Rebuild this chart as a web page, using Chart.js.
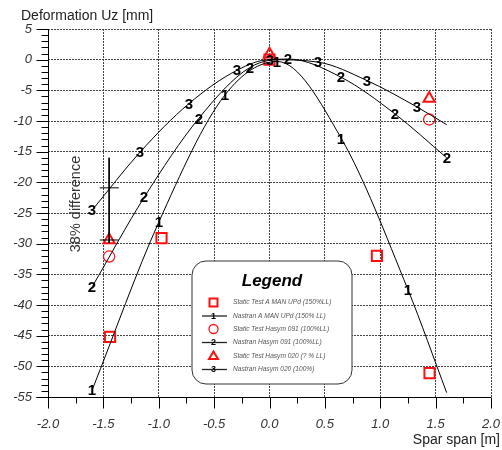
<!DOCTYPE html>
<html>
<head>
<meta charset="utf-8">
<script src="https://cdn.jsdelivr.net/npm/chart.js@4.4.0/dist/chart.umd.min.js"></script>
<style>
  html, body { margin: 0; padding: 0; background: #fff; }
  canvas { display: block; }
</style>
</head>
<body>
<canvas id="chart" width="502" height="450"></canvas>
<script>
// Nastran curves (points where the curve number is printed)
const nastran1X = [-1.6, -1.0, -0.4, 0.07, 0.65, 1.25, 1.6];
const nastran1Y = [-53.8, -26.5, -5.7, -0.3, -12.9, -37.5, -54.3];
const nastran1Mark = [1, 1, 1, 1, 1, 1, 0];

const nastran2X = [-1.6, -1.13, -0.64, -0.18, 0.17, 0.65, 1.13, 1.6];
const nastran2Y = [-37.0, -22.4, -9.6, -1.3, 0.1, -2.9, -8.8, -16.0];
const nastran2Mark = [1, 1, 1, 1, 1, 1, 1, 1];

const nastran3X = [-1.6, -1.17, -0.73, -0.29, 0.0, 0.44, 0.88, 1.33, 1.6];
const nastran3Y = [-24.5, -15.1, -7.2, -1.7, 0.0, -0.4, -3.4, -7.7, -10.6];
const nastran3Mark = [1, 1, 1, 1, 1, 1, 1, 1, 0];

// Static test measurements
const testManX = [-1.44, -0.975, 0.0, 0.97, 1.445];
const testManY = [-45.2, -29.1, 0.0, -32.0, -51.1];
const test091X = [-1.448, 1.442];
const test091Y = [-32.1, -9.75];
const test020X = [-1.448, 0.0, 1.442];
const test020Y = [-29.4, 0.9, -6.35];

// "38% difference" bracket
const diffX = [-1.448, -1.448];
const diffY = [-16.0, -29.9];
const diffTickX = [-1.533, -1.361];
const diffTickY = [-20.9, -29.4];

// Axes
const xTicks = [-2.0, -1.5, -1.0, -0.5, 0.0, 0.5, 1.0, 1.5, 2.0];
const yTicks = [5, 0, -5, -10, -15, -20, -25, -30, -35, -40, -45, -50, -55];

const legendNames = [
    'Static Test A MAN UPd (150%LL)',
    'Nastran A MAN UPd (150% LL)',
    'Static Test Hasym 091 (100%LL)',
    'Nastran Hasym 091 (100%LL)',
    'Static Test Hasym 020 (? % LL)',
    'Nastran Hasym 020 (100%)'
];

const FONT = '"Liberation Sans", Arial, sans-serif';
const RED = '#ff1010';

function pts(xs, ys) {
    return xs.map((x, i) => ({ x: x, y: ys[i] }));
}

function digitImage(d) {
    const c = document.createElement('canvas');
    c.width = 12;
    c.height = 16;
    const g = c.getContext('2d');
    g.font = 'bold 15px ' + FONT;
    g.textAlign = 'center';
    g.textBaseline = 'middle';
    g.fillStyle = '#000';
    g.fillText(d, 6, 9);
    return c;
}

function nastranSet(label, xs, ys, marks) {
    return {
        label: label,
        data: pts(xs, ys),
        showLine: true,
        borderColor: '#000',
        borderWidth: 1,
        cubicInterpolationMode: 'monotone',
        pointStyle: digitImage(label),
        pointRadius: ctx => marks[ctx.dataIndex] ? 5 : 0,
        pointHoverRadius: 0
    };
}

function lineSet(xs, ys) {
    return {
        data: pts(xs, ys),
        showLine: true,
        borderColor: '#000',
        borderWidth: 1,
        pointRadius: 0
    };
}

// solid axes with major/minor ticks
const axesPlugin = {
    id: 'axes',
    beforeDatasetsDraw(chart) {
        chart.ctx.imageSmoothingEnabled = false;
    },
    afterDatasetsDraw(chart) {
        const ctx = chart.ctx;
        const xs = chart.scales.x, ys = chart.scales.y;
        const a = chart.chartArea;
        ctx.save();
        ctx.strokeStyle = '#000';
        ctx.lineWidth = 1;
        ctx.beginPath();
        const lx = Math.round(a.left) + 0.5;
        const by = Math.round(a.bottom) + 0.5;
        ctx.moveTo(lx, a.top);
        ctx.lineTo(lx, by);
        ctx.moveTo(lx - 12, by);
        ctx.lineTo(a.right, by);
        for (let v = -55; v <= 5; v += 1) {
            const py = Math.round(ys.getPixelForValue(v)) + 0.5;
            ctx.moveTo(lx - (v % 5 === 0 ? 12 : 7), py);
            ctx.lineTo(lx, py);
        }
        for (let v = -2; v <= 2.001; v += 0.25) {
            const px = Math.round(xs.getPixelForValue(v)) + 0.5;
            const major = Math.abs(v * 2 - Math.round(v * 2)) < 1e-6;
            ctx.moveTo(px, by);
            ctx.lineTo(px, by + (major ? 11 : 6));
        }
        ctx.stroke();
        ctx.restore();
    }
};

const textPlugin = {
    id: 'texts',
    afterDraw(chart) {
        const ctx = chart.ctx;
        ctx.save();
        ctx.fillStyle = '#222';
        ctx.font = '14px ' + FONT;
        ctx.textBaseline = 'alphabetic';
        ctx.textAlign = 'left';
        ctx.fillText('Deformation Uz [mm]', 21, 20);
        ctx.textAlign = 'right';
        ctx.fillText('Spar span [m]', 500, 444);

        // rotated note
        ctx.save();
        ctx.translate(76, 204);
        ctx.rotate(-Math.PI / 2);
        ctx.textAlign = 'center';
        ctx.textBaseline = 'middle';
        ctx.fillStyle = '#333';
        ctx.font = '14.5px ' + FONT;
        ctx.fillText('38% difference', 0, 0);
        ctx.restore();

        // legend box
        const L = 192, T = 261, R = 352, B = 384, r = 14;
        ctx.beginPath();
        ctx.moveTo(L + r, T);
        ctx.arcTo(R, T, R, B, r);
        ctx.arcTo(R, B, L, B, r);
        ctx.arcTo(L, B, L, T, r);
        ctx.arcTo(L, T, R, T, r);
        ctx.closePath();
        ctx.fillStyle = '#fff';
        ctx.fill();
        ctx.strokeStyle = '#333';
        ctx.lineWidth = 1;
        ctx.stroke();

        ctx.fillStyle = '#000';
        ctx.font = 'italic bold 17px ' + FONT;
        ctx.textAlign = 'center';
        ctx.textBaseline = 'alphabetic';
        ctx.fillText('Legend', 272, 286);

        const rowsY = [302.5, 316, 329, 342.5, 356, 369.5];
        const sx = 213.5;
        rowsY.forEach((y, i) => {
            ctx.save();
            if (i % 2 === 0) {
                ctx.strokeStyle = RED;
                ctx.beginPath();
                if (i === 0) {
                    ctx.lineWidth = 2;
                    ctx.rect(sx - 4, y - 4, 8, 8);
                } else if (i === 2) {
                    ctx.lineWidth = 1.3;
                    ctx.arc(sx, y, 4.5, 0, Math.PI * 2);
                } else {
                    ctx.lineWidth = 2;
                    ctx.moveTo(sx, y - 4.5);
                    ctx.lineTo(sx + 4.5, y + 3);
                    ctx.lineTo(sx - 4.5, y + 3);
                    ctx.closePath();
                }
                ctx.stroke();
            } else {
                ctx.strokeStyle = '#222';
                ctx.lineWidth = 1.3;
                ctx.beginPath();
                ctx.moveTo(202, y);
                ctx.lineTo(227, y);
                ctx.stroke();
                ctx.fillStyle = '#000';
                ctx.font = 'bold 9px ' + FONT;
                ctx.textAlign = 'center';
                ctx.textBaseline = 'middle';
                ctx.fillText(String((i + 1) / 2), sx, y + 0.5);
            }
            ctx.restore();
            ctx.fillStyle = '#555';
            ctx.font = 'italic 6.6px ' + FONT;
            ctx.textAlign = 'left';
            ctx.textBaseline = 'middle';
            ctx.fillText(legendNames[i], 233, y);
        });
        ctx.restore();
    }
};

new Chart(document.getElementById('chart'), {
    type: 'scatter',
    data: {
        datasets: [
            nastranSet('1', nastran1X, nastran1Y, nastran1Mark),
            nastranSet('2', nastran2X, nastran2Y, nastran2Mark),
            nastranSet('3', nastran3X, nastran3Y, nastran3Mark),
            lineSet(diffX, diffY),
            lineSet(diffTickX, [diffTickY[0], diffTickY[0]]),
            lineSet(diffTickX, [diffTickY[1], diffTickY[1]]),
            {
                data: pts(testManX, testManY),
                pointStyle: 'rect',
                pointRadius: 7.2,
                borderColor: RED,
                backgroundColor: 'rgba(0,0,0,0)',
                borderWidth: 2
            },
            {
                data: pts(test091X, test091Y),
                pointStyle: 'circle',
                pointRadius: 5.6,
                borderColor: RED,
                backgroundColor: 'rgba(0,0,0,0)',
                borderWidth: 1.2
            },
            {
                data: pts(test020X, test020Y),
                pointStyle: 'triangle',
                pointRadius: 6.5,
                borderColor: RED,
                backgroundColor: 'rgba(0,0,0,0)',
                borderWidth: 2
            }
        ]
    },
    options: {
        responsive: false,
        animation: false,
        devicePixelRatio: 1,
        layout: { padding: { top: 29, right: 11, left: 0, bottom: 0 } },
        plugins: { legend: { display: false }, tooltip: { enabled: false } },
        events: [],
        scales: {
            x: {
                type: 'linear',
                min: -2,
                max: 2,
                afterBuildTicks: s => { s.ticks = xTicks.map(v => ({ value: v })); },
                afterFit: s => { s.height = 53; s.paddingLeft = 0; s.paddingRight = 0; },
                ticks: {
                    padding: 20,
                    color: '#333',
                    font: { family: FONT, size: 13, style: 'italic' },
                    callback: v => v.toFixed(1),
                    maxRotation: 0
                },
                grid: { color: '#444', lineWidth: 1, drawTicks: false },
                border: { display: false, dash: [2, 1] }
            },
            y: {
                type: 'linear',
                min: -55,
                max: 5,
                afterBuildTicks: s => { s.ticks = yTicks.map(v => ({ value: v })); },
                afterFit: s => { s.width = 48; s.paddingTop = 0; s.paddingBottom = 0; },
                ticks: {
                    padding: 16,
                    color: '#333',
                    font: { family: FONT, size: 13, style: 'italic' },
                    callback: v => String(v)
                },
                grid: { color: '#444', lineWidth: 1, drawTicks: false },
                border: { display: false, dash: [2, 1] }
            }
        }
    },
    plugins: [axesPlugin, textPlugin]
});
</script>
</body>
</html>
